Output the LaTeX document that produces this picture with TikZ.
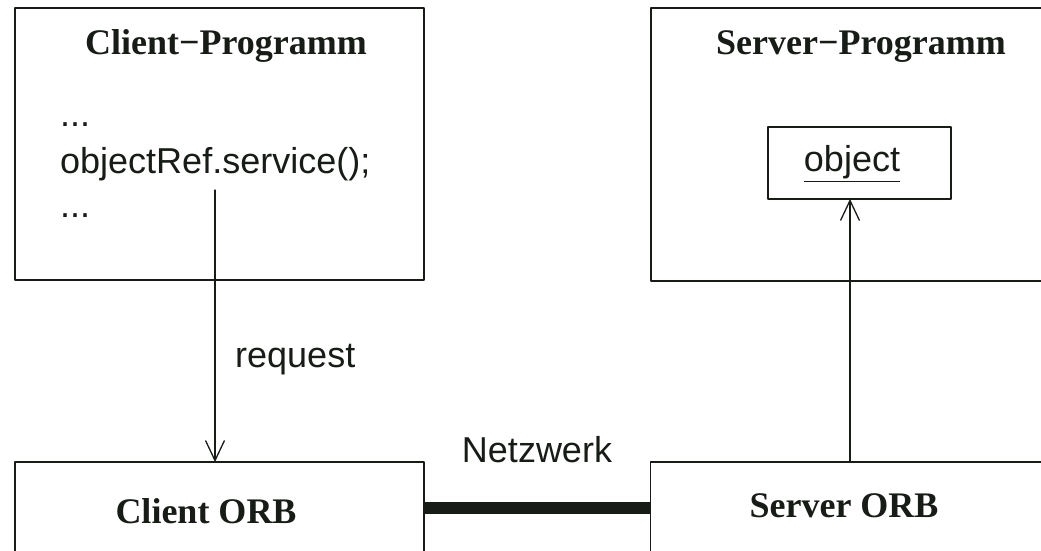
\documentclass[tikz,border=0pt]{standalone}
\usepackage{fontspec}
\setmainfont{Liberation Serif}
\setsansfont{Liberation Sans}
\usetikzlibrary{arrows.meta}
\definecolor{ink}{rgb}{0.09,0.11,0.09}

\tikzset{
	box/.style={draw=ink,line width=1.3pt,rectangle,inner sep=0pt,outer sep=0pt},
	titel/.style={text=ink,font=\bfseries\fontsize{36}{42}\selectfont,inner sep=0pt,anchor=base},
	code/.style={text=ink,font=\sffamily\fontsize{36}{42}\selectfont,inner sep=0pt,anchor=base west},
	pfeil/.style={draw=ink,line width=1.3pt,-{Straight Barb[length=20pt,width=19pt,line width=1.3pt]}}
}

\begin{document}
\begin{tikzpicture}[line cap=round,line join=round,x=1pt,y=1pt]
					\useasboundingbox (0,0) rectangle (1041,550);
					\clip (0,0) rectangle (1041,550);
					% Programme oben
					\node [box,minimum width=409pt,minimum height=272pt] (cprog) at (219.5,406) {};
					\node [box,minimum width=409pt,minimum height=273pt] (sprog) at (855.5,405.5) {};
					\node [titel] (ctitel) at (226,495) {Client−Programm};
					\node [titel] (stitel) at (861,495) {Server−Programm};
					\node [code] (dots1) at (60,423) {...};
					\node [code] (call) at (60,377) {objectRef.service();};
					\node [code] (dots2) at (60,333) {...};
					\node [box,minimum width=183pt,minimum height=72pt] (obj) at (859.5,387) {};
					\node [code,anchor=base] (objtext) at (852,378) {\underline{object}};
					% ORBs unten
					\node [box,minimum width=409pt,minimum height=92pt] (corb) at (219.5,42) {};
					\node [box,minimum width=409pt,minimum height=92pt] (sorb) at (855,42) {};
					\node [titel] (corbtext) at (206,27) {Client ORB};
					\node [titel] (sorbtext) at (844,33) {Server ORB};
					\draw [ink,line width=12pt,line cap=butt] (corb.east) -- (sorb.west);
					\node [code,anchor=base] (netz) at (537,88) {Netzwerk};
					% Aufruf
					\coordinate (reqstart) at (215,360);
					\draw [pfeil] (reqstart) -- (reqstart |- corb.north);
					\node [code] (req) at (235,183) {request};
					\coordinate (upstart) at (850,88);
					\draw [pfeil] (upstart) -- (upstart |- obj.south);
				\end{tikzpicture}
\end{document}
